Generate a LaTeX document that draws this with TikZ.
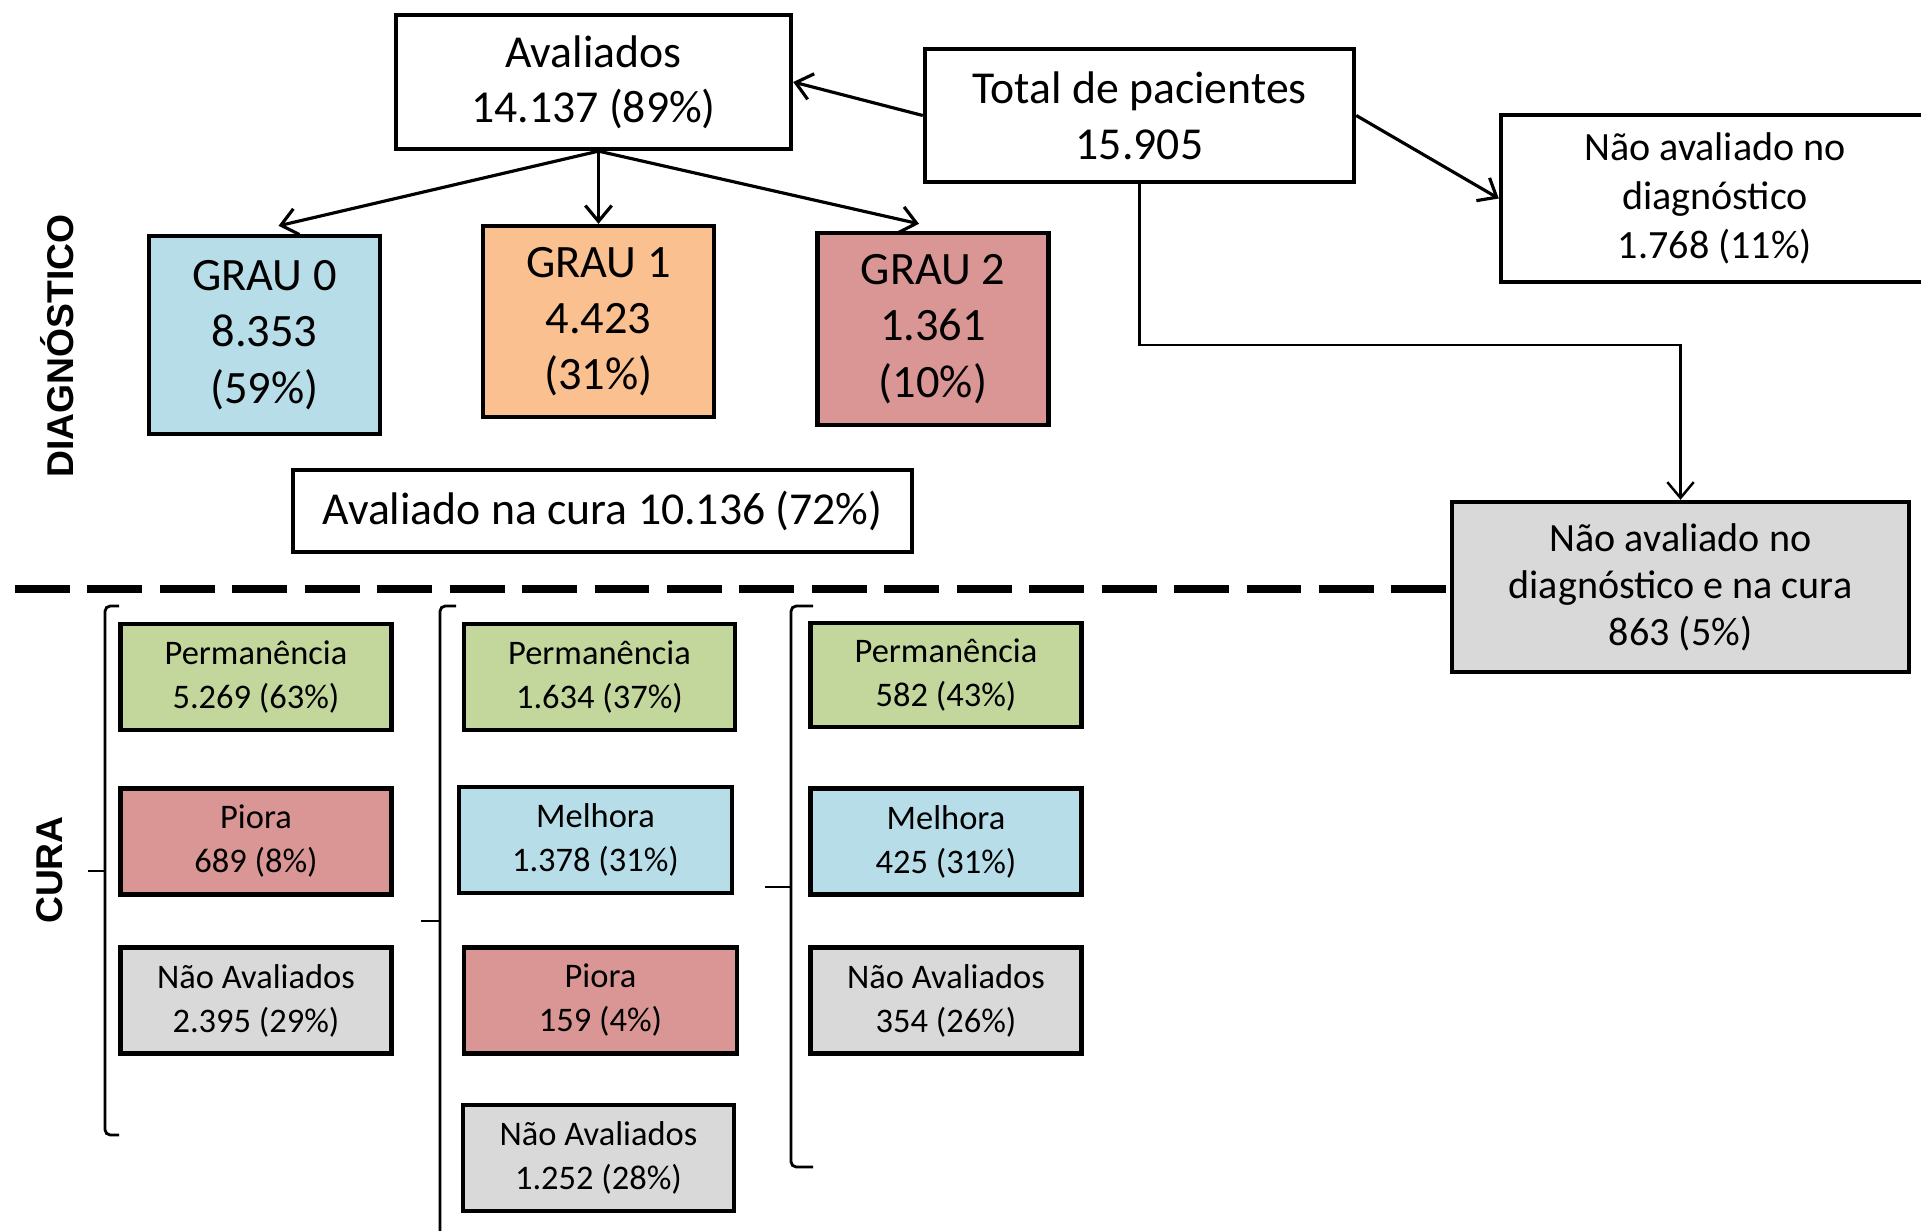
\documentclass[tikz,border=0pt]{standalone}
\usepackage{fontspec}
\setmainfont{Carlito}
\newfontfamily\lblfont{Liberation Sans}
\usetikzlibrary{arrows.meta,calc}
\definecolor{cblue}{HTML}{B7DDE8}
\definecolor{corange}{HTML}{FAC090}
\definecolor{cred}{HTML}{D99694}
\definecolor{cgreen}{HTML}{C3D69B}
\definecolor{cgray}{HTML}{D9D9D9}
\begin{document}
\begin{tikzpicture}[x=0.01cm,y=-0.01cm,
  box/.style={draw=black, line width=1.2pt, inner sep=0pt, align=center, text=black},
  bigtxt/.style={font=\fontsize{13}{15.6}\selectfont},
  grautxt/.style={font=\fontsize{13.2}{16}\selectfont},
  midtxt/.style={font=\fontsize{11.4}{14}\selectfont},
  grau/.style={box, grautxt, minimum width=2.31cm},
  small/.style={box, font=\fontsize{9.8}{12.5}\selectfont, minimum width=2.71cm, minimum height=1.06cm},
  arr/.style={line width=0.9pt, -{Straight Barb[length=4.5pt,width=7.5pt]}},
  brk/.style={line width=0.8pt, rounded corners=1.5pt},
  dashline/.style={line width=2.5pt, dash pattern=on 15.6pt off 5pt},
  sidelbl/.style={rotate=90, anchor=base, font=\lblfont\bfseries\fontsize{10.6}{12}\selectfont}]
\useasboundingbox[fill=white] (0,0) rectangle (1921,1231);

% top part
\node[box, bigtxt, minimum width=3.95cm, minimum height=1.34cm] (aval) at (593.5,82) {Avaliados\\14.137 (89\%)};
\node[box, font=\fontsize{13}{16}\selectfont, minimum width=4.29cm, minimum height=1.33cm] (total) at (1139.5,115.5) {Total de pacientes\\15.905};
\node[box, midtxt, minimum width=4.28cm, minimum height=1.67cm] (nad) at (1715,198.5) {Não avaliado no\\diagnóstico\\1.768 (11\%)};
\node[grau, fill=cblue, minimum height=1.98cm] (g0) at (264.5,335) {GRAU 0\\8.353\\(59\%)};
\node[grau, fill=corange, minimum height=1.91cm] (g1) at (598.5,321.5) {GRAU 1\\4.423\\(31\%)};
\node[grau, fill=cred, minimum height=1.92cm] (g2) at (933,329) {GRAU 2\\1.361\\(10\%)};
\node[box, bigtxt, minimum width=6.19cm, minimum height=0.82cm] (curaeval) at (602.5,511) {Avaliado na cura 10.136 (72\%)};

\node[sidelbl] (diag) at (73,346) {DIAGNÓSTICO};
\node[sidelbl] (curalbl) at (62,870) {CURA};

% dashed separator
\coordinate (dl) at (15,589);
\node[box, font=\fontsize{11.4}{13.4}\selectfont, fill=cgray, minimum width=4.57cm, minimum height=1.70cm] (nadc) at (1680.5,587) {Não avaliado no\\diagnóstico e na cura\\863 (5\%)};
\draw[dashline] (dl) -- (dl -| nadc.west);

% connectors
\coordinate (as) at (aval.south -| g1.north);
\draw[arr] (as) -- ($(g0.north)+(14,-8)$);
\draw[arr] (as) -- (g1.north);
\draw[arr] (as) -- ($(g2.north)+(-14,-7)$);
\draw[arr] (total.west) -- (aval.east);
\draw[arr] (total.east) -- (nad.west);
\draw[arr, line width=0.7pt] (total.south) -- ++(0,161) -| (nadc.north);

% cura column 1
\node[small, fill=cgreen] (p1) at (256,677) {Permanência\\5.269 (63\%)};
\node[small, fill=cred] (r1) at (256,841.5) {Piora\\689 (8\%)};
\node[small, fill=cgray] (n1) at (256,1000.5) {Não Avaliados\\2.395 (29\%)};
% column 2
\node[small, fill=cgreen] (p2) at (599.5,677) {Permanência\\1.634 (37\%)};
\node[small, fill=cblue, minimum width=2.73cm] (m2) at (595.5,840) {Melhora\\1.378 (31\%)};
\node[small, fill=cred, minimum width=2.73cm] (r2) at (600.5,1000.5) {Piora\\159 (4\%)};
\node[small, fill=cgray] (n2) at (598.5,1158) {Não Avaliados\\1.252 (28\%)};
% column 3
\node[small, fill=cgreen, minimum height=1.04cm] (p3) at (946,675) {Permanência\\582 (43\%)};
\node[small, fill=cblue] (m3) at (946,841.5) {Melhora\\425 (31\%)};
\node[small, fill=cgray] (n3) at (946,1000.5) {Não Avaliados\\354 (26\%)};

% brackets
\draw[brk] (119,606) -- (105,606) -- (105,1135) -- (119,1135);
\draw[line width=0.8pt] (105,871) -- (88,871);
\draw[brk] (456,606) -- (440,606) -- (440,1260);
\draw[line width=0.8pt] (440,921) -- (421,921);
\draw[brk] (813,606) -- (791,606) -- (791,1167) -- (813,1167);
\draw[line width=0.8pt] (791,887) -- (765,887);
\end{tikzpicture}
\end{document}
